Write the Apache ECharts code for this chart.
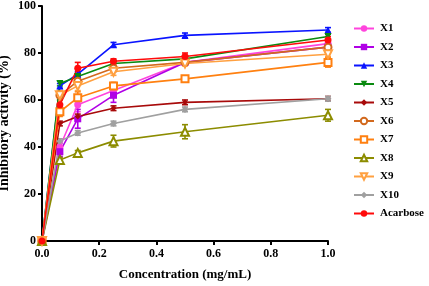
<!DOCTYPE html>
<html>
<head>
<meta charset="utf-8">
<script src="https://cdn.jsdelivr.net/npm/echarts@6/dist/echarts.min.js"></script>
<style>
  html, body { margin: 0; padding: 0; background: #fff; }
  #chart { width: 429px; height: 286px; }
</style>
</head>
<body>
<div id="chart"></div>
<script>
// concentrations (mg/mL)
const conc = [0, 0.0625, 0.125, 0.25, 0.5, 1.0]

const names = ['X1', 'X2', 'X3', 'X4', 'X5', 'X6', 'X7', 'X8', 'X9', 'X10', 'Acarbose']

// inhibitory activity (%)
const x1 = [0, 40, 58, 64, 76, 84]
const x2 = [0, 38, 52, 62, 76, 82.5]
const x3 = [0, 66, 71, 83.5, 87.5, 89.8]
const x4 = [0, 67, 70, 75.5, 77.5, 87]
const x5 = [0, 50, 53, 56.5, 59, 60.5]
const x6 = [0, 62, 68, 73.5, 76, 82.5]
const x7 = [0, 55, 61, 66, 69, 76]
const x8 = [0, 34.5, 37.5, 42.5, 46.5, 53.5]
const x9 = [0, 62, 66, 72, 75.5, 79.5]
const x10 = [0, 42.5, 46, 50, 56, 60.5]
const acarbose = [0, 58, 73.5, 76.5, 78.5, 85.5]

// standard deviations
const x1Err = [0, 2, 3, 2, 1, 1]
const x2Err = [0, 2, 4, 3, 1, 1]
const x3Err = [0, 1, 1, 1, 1, 1]
const x4Err = [0, 1, 1, 1, 1, 1]
const x5Err = [0, 1, 1, 1, 1, 1]
const x6Err = [0, 2, 1.5, 1.5, 1, 1]
const x7Err = [0, 2, 2.5, 1.5, 1, 2]
const x8Err = [0, 1, 1, 2.5, 3, 2.5]
const x9Err = [0, 2, 2, 1.5, 1, 1]
const x10Err = [0, 1, 1, 1, 1, 1]
const acarboseErr = [0, 3, 2.5, 1, 1.5, 1.5]

const values = [x1, x2, x3, x4, x5, x6, x7, x8, x9, x10, acarbose]
const errors = [x1Err, x2Err, x3Err, x4Err, x5Err, x6Err, x7Err, x8Err, x9Err, x10Err, acarboseErr]

const colors = ['#ff44dd', '#b000e6', '#0a14ff', '#0a8a10', '#a80a0a', '#d2691e', '#ff8010', '#8c8c00', '#ffa040', '#a0a0a0', '#ff0a0a']
const downTri = 'path://M0,0 L10,0 L5,9 Z'
const symbols = ['circle', 'rect', 'triangle', downTri, 'diamond', 'circle', 'rect', 'triangle', downTri, 'diamond', 'circle']
const hollow = [false, false, false, false, false, true, true, true, true, false, false]
const sizes = [7, 7, 7, 7, 6, 7, 7, 8, 8, 7, 7]

const font = '"Liberation Serif", "Times New Roman", serif'

const chart = echarts.init(document.getElementById('chart'))

const lineSeries = names.map((name, i) => ({
  name: name,
  type: 'line',
  data: conc.map((c, k) => [c, values[i][k]]),
  symbol: symbols[i],
  symbolSize: sizes[i],
  showAllSymbol: true,
  z: 3,
  lineStyle: { color: colors[i], width: 1.6 },
  itemStyle: hollow[i]
    ? { color: '#fff', borderColor: colors[i], borderWidth: 2 }
    : { color: colors[i] },
  emphasis: { disabled: true }
}))

// 误差线
const errorSeries = names.map((name, i) => ({
  type: 'custom',
  z: 2,
  silent: true,
  data: conc.map((c, k) => [c, values[i][k] - errors[i][k], values[i][k] + errors[i][k]]),
  renderItem: (params, api) => {
    const lo = api.coord([api.value(0), api.value(1)])
    const hi = api.coord([api.value(0), api.value(2)])
    const w = 3
    const style = { stroke: colors[i], lineWidth: 1.6 }
    return {
      type: 'group',
      children: [
        { type: 'line', shape: { x1: lo[0], y1: lo[1], x2: hi[0], y2: hi[1] }, style },
        { type: 'line', shape: { x1: lo[0] - w, y1: lo[1], x2: lo[0] + w, y2: lo[1] }, style },
        { type: 'line', shape: { x1: hi[0] - w, y1: hi[1], x2: hi[0] + w, y2: hi[1] }, style }
      ]
    }
  }
}))

const option = {
  animation: false,
  grid: { left: 42, right: 101, top: 6, bottom: 45, outerBoundsMode: 'none', containLabel: false },
  legend: {
    data: names,
    orient: 'vertical',
    left: 348,
    top: 18,
    itemGap: 7.5,
    itemWidth: 20,
    itemHeight: 8,
    textStyle: { fontFamily: font, fontWeight: 'bold', fontSize: 11, color: '#000', padding: [0, 0, 0, 1] }
  },
  xAxis: {
    type: 'value',
    min: 0,
    max: 1,
    interval: 0.2,
    name: 'Concentration (mg/mL)',
    nameLocation: 'middle',
    nameGap: 27,
    nameMoveOverlap: false,
    nameTextStyle: { fontFamily: font, fontWeight: 'bold', fontSize: 13, color: '#000' },
    axisLine: { onZero: false, lineStyle: { color: '#000', width: 2 } },
    axisTick: { length: 4, lineStyle: { width: 2 } },
    axisLabel: { fontFamily: font, fontWeight: 'bold', fontSize: 12, color: '#000', margin: 7, formatter: v => v.toFixed(1) },
    splitLine: { show: false }
  },
  yAxis: {
    type: 'value',
    min: 0,
    max: 100,
    interval: 20,
    name: 'Inhibitory activity (%)',
    nameLocation: 'middle',
    nameGap: 31,
    nameMoveOverlap: false,
    nameTextStyle: { fontFamily: font, fontWeight: 'bold', fontSize: 14, color: '#000' },
    axisLine: { show: true, lineStyle: { color: '#000', width: 2 } },
    axisTick: { show: true, length: 4, lineStyle: { width: 2 } },
    axisLabel: { fontFamily: font, fontWeight: 'bold', fontSize: 12, color: '#000', margin: 6 },
    splitLine: { show: false }
  },
  series: [...errorSeries, ...lineSeries]
}

chart.setOption(option)
</script>
</body>
</html>
